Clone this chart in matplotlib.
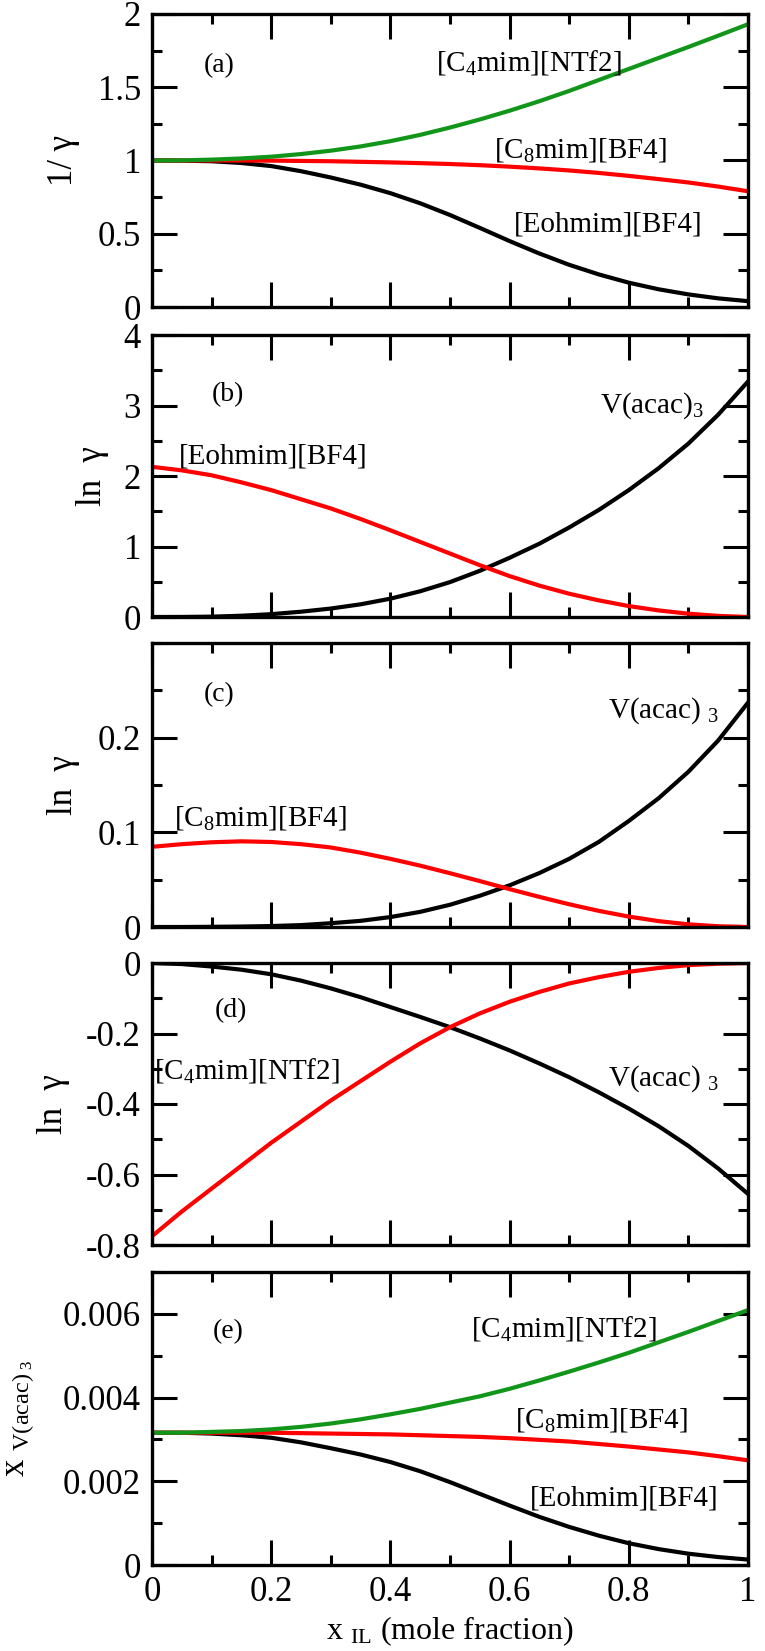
import numpy as np
import matplotlib
matplotlib.use('Agg')
import matplotlib.pyplot as plt
from matplotlib.ticker import MultipleLocator

plt.rcParams['font.family'] = ['Liberation Serif', 'DejaVu Serif']
plt.rcParams['mathtext.fontset'] = 'custom'
plt.rcParams['mathtext.rm'] = 'Liberation Serif'
plt.rcParams['mathtext.it'] = 'Liberation Serif:italic'

# mole fraction of IL
x_il = np.array([0, .05, .1, .15, .2, .25, .3, .35, .4, .45, .5,
                 .55, .6, .65, .7, .75, .8, .85, .9, .95, 1.0])

# (a) 1/gamma
a_ntf2 = [1.0, 1.001, 1.006, 1.014, 1.026, 1.044, 1.067, 1.096, 1.132, 1.175, 1.225,
          1.28, 1.34, 1.405, 1.475, 1.55, 1.625, 1.70, 1.775, 1.852, 1.93]
a_c8 = [1.0, 1.0, 1.0, 1.0, 0.999, 0.997, 0.995, 0.991, 0.987, 0.982, 0.976,
        0.968, 0.958, 0.946, 0.932, 0.915, 0.895, 0.873, 0.85, 0.822, 0.79]
a_eoh = [1.0, 0.999, 0.995, 0.983, 0.962, 0.927, 0.884, 0.835, 0.777, 0.708, 0.628,
         0.54, 0.45, 0.365, 0.288, 0.222, 0.166, 0.121, 0.086, 0.059, 0.04]

# (b) ln gamma, [Eohmim][BF4] + V(acac)3
b_eoh = [2.13, 2.08, 2.01, 1.91, 1.80, 1.67, 1.54, 1.39, 1.23, 1.065, 0.90,
         0.735, 0.58, 0.445, 0.33, 0.235, 0.155, 0.093, 0.047, 0.016, 0.0]
b_vac = [0, 0.001, 0.005, 0.018, 0.04, 0.075, 0.12, 0.18, 0.26, 0.365, 0.495,
         0.655, 0.84, 1.04, 1.27, 1.52, 1.80, 2.11, 2.46, 2.87, 3.34]

# (c) ln gamma, [C8mim][BF4] + V(acac)3
c_c8 = [0.0847, 0.0875, 0.0895, 0.0905, 0.0898, 0.0875, 0.084, 0.0785, 0.072, 0.0648, 0.0568,
        0.0485, 0.040, 0.0318, 0.024, 0.017, 0.011, 0.0062, 0.0028, 0.0008, 0.0]
c_vac = [0, 0, 0.0002, 0.0005, 0.001, 0.002, 0.004, 0.0065, 0.0105, 0.016, 0.0235,
         0.033, 0.044, 0.057, 0.072, 0.090, 0.112, 0.136, 0.164, 0.197, 0.237]

# (d) ln gamma, [C4mim][NTf2] + V(acac)3
d_ntf2 = [-0.775, -0.705, -0.64, -0.575, -0.51, -0.45, -0.39, -0.335, -0.28, -0.228, -0.182,
          -0.143, -0.11, -0.082, -0.058, -0.04, -0.025, -0.014, -0.006, -0.002, 0.0]
d_vac = [0, -0.003, -0.01, -0.019, -0.032, -0.05, -0.072, -0.097, -0.125, -0.153, -0.182,
         -0.214, -0.248, -0.285, -0.324, -0.367, -0.413, -0.463, -0.519, -0.583, -0.655]

# (e) solubility x_V(acac)3
e_ntf2 = [0.00316, 0.00316, 0.00318, 0.0032, 0.00324, 0.0033, 0.00338, 0.00348, 0.0036, 0.00373, 0.00388,
          0.00403, 0.00421, 0.00441, 0.00462, 0.00484, 0.00507, 0.00532, 0.00557, 0.00583, 0.00609]
e_c8 = [0.00316, 0.00316, 0.00316, 0.00316, 0.00316, 0.00315, 0.00314, 0.00313, 0.00312, 0.0031, 0.00308,
        0.00306, 0.00303, 0.00299, 0.00295, 0.00289, 0.00283, 0.00276, 0.00269, 0.0026, 0.0025]
e_eoh = [0.00316, 0.00316, 0.00314, 0.0031, 0.00304, 0.00293, 0.00279, 0.00264, 0.00246, 0.00224, 0.00198,
         0.0017, 0.00142, 0.00115, 0.00091, 0.0007, 0.00052, 0.00038, 0.00027, 0.00019, 0.00013]

GREEN = '#12961a'
RED = '#ff0000'
LW = 3.0

W, H = 765, 1651
fig = plt.figure(figsize=(W / 100, H / 100), dpi=100)

# panel boxes in pixels (top, bottom)
boxes = [(14, 307), (335, 617), (643, 927), (963, 1245), (1272, 1565)]
axes = []
for top, bot in boxes:
    ax = fig.add_axes([152 / W, 1 - bot / H, 596 / W, (bot - top) / H])
    axes.append(ax)


def style(ax, ylim, minor, yticks):
    ax.set_xlim(0, 1)
    ax.set_ylim(*ylim)
    ax.xaxis.set_major_locator(MultipleLocator(0.2))
    ax.xaxis.set_minor_locator(MultipleLocator(0.1))
    ax.set_yticks(yticks)
    ax.yaxis.set_minor_locator(MultipleLocator(minor))
    ax.tick_params(which='both', direction='in', top=True, right=True, width=2.2)
    ax.tick_params(which='major', length=18, labelsize=25, pad=8)
    ax.tick_params(which='minor', length=7.5)
    for s in ax.spines.values():
        s.set_linewidth(2.4)


# (a)
ax = axes[0]
ax.plot(x_il, a_eoh, color='k', lw=LW)
ax.plot(x_il, a_c8, color=RED, lw=LW)
ax.plot(x_il, a_ntf2, color=GREEN, lw=LW)
style(ax, (0, 2), 0.25, [0, 0.5, 1, 1.5, 2])
ax.set_yticklabels(['0', '0.5', '1', '1.5', '2'])
ax.text(0.086, 1.65, '(a)', fontsize=20, va='center')
ax.text(0.477, 1.67, r'[C$_4$mim][NTf2]', fontsize=21, va='center')
ax.text(0.574, 1.07, r'[C$_8$mim][BF4]', fontsize=21, va='center')
ax.text(0.607, 0.56, '[Eohmim][BF4]', fontsize=21, va='center')
ax.set_ylabel('1/ γ', fontsize=25, va='center')
ax.yaxis.set_label_coords(-0.148, 0.5)

# (b)
ax = axes[1]
ax.plot(x_il, b_vac, color='k', lw=LW)
ax.plot(x_il, b_eoh, color=RED, lw=LW)
style(ax, (0, 4), 0.5, [0, 1, 2, 3, 4])
ax.text(0.10, 3.15, '(b)', fontsize=20, va='center')
ax.text(0.752, 3.0, r'V(acac)$_3$', fontsize=21, va='center')
ax.text(0.045, 2.27, '[Eohmim][BF4]', fontsize=21, va='center')
ax.set_ylabel('ln  γ', fontsize=25, va='center')
ax.yaxis.set_label_coords(-0.099, 0.5)

# (c)
ax = axes[2]
ax.plot(x_il, c_vac, color='k', lw=LW)
ax.plot(x_il, c_c8, color=RED, lw=LW)
style(ax, (0, 0.3), 0.05, [0, 0.1, 0.2])
ax.set_yticklabels(['0', '0.1', '0.2'])
ax.text(0.086, 0.245, '(c)', fontsize=20, va='center')
ax.text(0.765, 0.229, r'V(acac) $_3$', fontsize=21, va='center')
ax.text(0.037, 0.115, r'[C$_8$mim][BF4]', fontsize=21, va='center')
ax.set_ylabel('ln  γ', fontsize=25, va='center')
ax.yaxis.set_label_coords(-0.149, 0.5)

# (d)
ax = axes[3]
ax.plot(x_il, d_vac, color='k', lw=LW)
ax.plot(x_il, d_ntf2, color=RED, lw=LW)
style(ax, (-0.8, 0), 0.1, [-0.8, -0.6, -0.4, -0.2, 0])
ax.set_yticklabels(['-0.8', '-0.6', '-0.4', '-0.2', '0'])
ax.text(0.106, -0.134, '(d)', fontsize=20, va='center')
ax.text(0.004, -0.304, r'[C$_4$mim][NTf2]', fontsize=21, va='center')
ax.text(0.765, -0.328, r'V(acac) $_3$', fontsize=21, va='center')
ax.set_ylabel('ln  γ', fontsize=25, va='center')
ax.yaxis.set_label_coords(-0.166, 0.5)

# (e)
ax = axes[4]
ax.plot(x_il, e_eoh, color='k', lw=LW)
ax.plot(x_il, e_c8, color=RED, lw=LW)
ax.plot(x_il, e_ntf2, color=GREEN, lw=LW)
style(ax, (0, 0.007), 0.001, [0, 0.002, 0.004, 0.006])
ax.set_yticklabels(['0', '0.002', '0.004', '0.006'])
ax.text(0.102, 0.00558, '(e)', fontsize=20, va='center')
ax.text(0.535, 0.00566, r'[C$_4$mim][NTf2]', fontsize=21, va='center')
ax.text(0.609, 0.00347, r'[C$_8$mim][BF4]', fontsize=21, va='center')
ax.text(0.634, 0.00159, '[Eohmim][BF4]', fontsize=21, va='center')
ax.set_ylabel(r'x $_{\mathrm{V(acac)}_{\ 3}}$', fontsize=25, va='center')
ax.yaxis.set_label_coords(-0.223, 0.5)
ax.set_xticks([0, 0.2, 0.4, 0.6, 0.8, 1.0])
ax.set_xticklabels(['0', '0.2', '0.4', '0.6', '0.8', '1'])
ax.set_xlabel(r'x $_{\mathrm{IL}}$ (mole fraction)', fontsize=23, va='bottom')
ax.xaxis.set_label_coords(0.5, -0.284)

for ax in axes[:4]:
    ax.tick_params(labelbottom=False)

fig.savefig('out.png', dpi=100)
